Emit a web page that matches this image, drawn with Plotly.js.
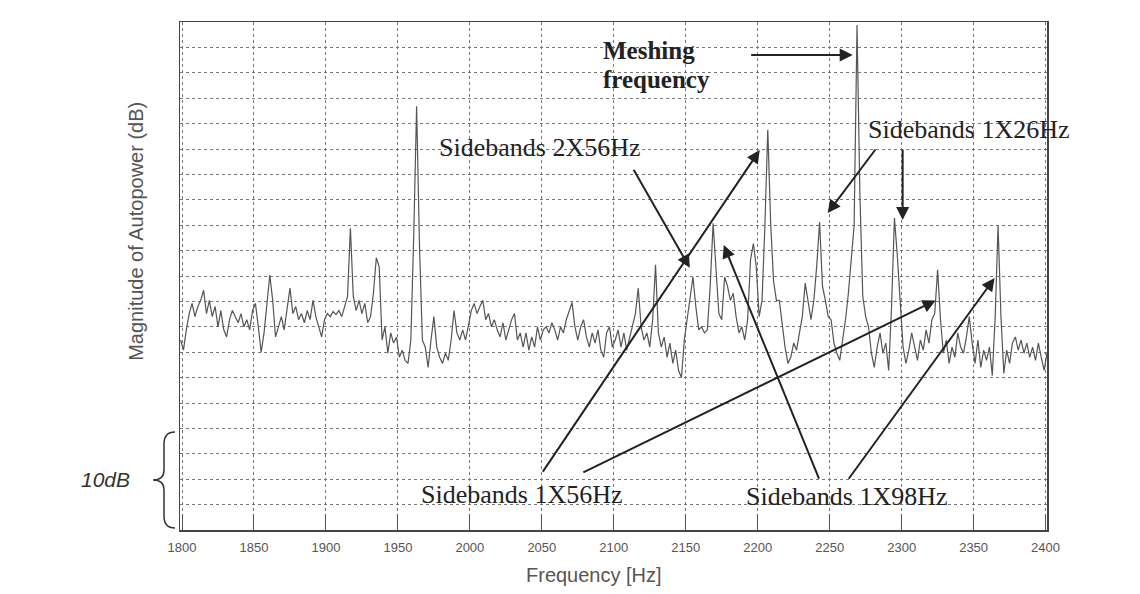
<!DOCTYPE html>
<html>
<head>
<meta charset="utf-8">
<script src="https://cdn.plot.ly/plotly-3.0.1.min.js"></script>
<style>html,body{margin:0;padding:0;background:#fff;}#chart{width:1140px;height:594px;}</style>
</head>
<body>
<div id="chart"></div>
<script>
const freqStart = 1799;
const freqStep = 2;
const magnitudeDb = [
  18.7,17.7,19.7,21.3,22.3,21.0,22.0,22.6,23.6,21.3,
  22.6,21.0,22.0,20.0,21.6,19.7,19.0,20.7,21.6,21.0,
  20.4,21.3,20.0,20.7,19.7,21.6,22.3,20.0,17.5,19.4,
  22.6,25.1,22.6,19.0,20.0,21.0,19.7,22.0,23.8,21.3,
  22.0,20.7,21.3,20.4,21.6,20.7,22.6,21.0,20.0,19.0,
  20.7,21.3,21.0,21.5,21.2,21.6,21.0,22.0,23.0,29.7,
  23.0,21.6,22.6,21.3,22.3,20.4,21.0,23.3,26.8,25.9,
  18.7,20.0,17.4,19.4,18.4,19.0,17.0,17.7,16.7,16.4,
  18.7,29.0,41.7,28.0,18.7,18.0,16.0,18.7,21.0,18.0,
  17.0,16.4,17.4,16.7,18.7,21.6,19.4,18.7,19.7,18.7,
  20.0,21.6,22.3,21.3,22.0,22.6,20.7,21.3,20.0,20.7,
  19.7,19.0,20.4,18.7,19.7,20.7,21.3,18.7,19.4,18.0,
  19.4,17.7,19.0,18.0,20.0,18.7,19.7,20.0,19.4,20.4,
  19.7,18.7,20.0,19.4,20.7,21.6,22.4,20.0,18.7,20.0,
  20.7,19.0,18.0,19.4,18.4,19.7,17.7,17.0,19.4,20.0,
  18.0,18.7,19.7,18.0,19.4,17.7,19.0,20.0,21.3,23.8,
  20.0,18.7,19.4,18.0,20.7,26.1,19.4,18.0,19.0,17.0,
  18.4,16.4,17.7,15.7,15.0,18.7,20.7,22.6,24.9,22.0,
  19.7,20.0,19.4,19.7,24.0,30.2,25.9,21.3,20.7,24.9,
  24.0,22.6,23.3,21.0,19.4,20.0,18.7,20.7,26.6,28.2,
  25.9,21.0,22.6,30.0,39.4,30.2,24.5,22.6,22.6,20.0,
  18.0,16.4,17.0,18.4,17.7,19.4,21.0,24.3,22.6,20.7,
  22.6,26.0,30.3,24.0,22.6,21.0,20.7,18.4,17.4,16.7,
  18.7,20.7,23.3,26.6,30.0,49.7,33.0,23.0,21.0,20.0,
  17.4,16.0,18.0,19.4,17.4,18.4,15.7,22.0,30.7,27.0,
  22.0,18.0,16.4,17.7,19.4,18.0,16.7,18.7,17.7,19.7,
  18.4,20.7,21.3,25.6,20.7,17.4,18.7,16.4,18.0,17.0,
  19.4,18.0,17.4,19.0,21.0,18.4,16.4,18.7,16.0,17.7,
  16.7,18.0,15.2,21.0,30.0,21.0,15.4,17.7,16.4,18.4,
  19.0,17.7,18.7,17.4,18.4,17.0,18.0,16.7,18.4,17.0,
  15.7,17.4
];
const xTickVals = [1800,1850,1900,1950,2000,2050,2100,2150,2200,2250,2300,2350,2400];
const xTickText = ['1800','1850','1900','1950','2000','2050','2100','2150','2200','2250','2300','2350','2400'];

// Label texts and arrow [tail, head] positions in data units (Hz, dB)
const labelTexts = ['Sidebands 2X56Hz','Sidebands 1X26Hz','Sidebands 1X56Hz','Sidebands 1X98Hz'];
const labelX = [2048.6, 2346.5, 2036, 2261.8];
const labelY = [37.6, 39.4, 3.5, 3.25];
const arrowTailX = [2194.4, 2282.6, 2300.7, 2113.2, 2050.0, 2077.8, 2243.0, 2262.5];
const arrowTailY = [46.75, 37.6, 37.6, 35.6, 5.6, 5.6, 4.9, 4.9];
const arrowHeadX = [2266.0, 2248.6, 2300.7, 2152.8, 2201.4, 2323.6, 2176.4, 2364.6];
const arrowHeadY = [46.75, 31.2, 30.5, 25.8, 37.4, 22.6, 28.05, 24.8];

const serif = 'Liberation Serif, Times New Roman, serif';
const sans = 'Liberation Sans, Arial, sans-serif';

const annotations = [];
labelTexts.forEach((t, i) => annotations.push({
  x: labelX[i], y: labelY[i], xref: 'x', yref: 'y', text: t, showarrow: false,
  xanchor: 'center', yanchor: 'middle', font: {family: serif, size: 26, color: '#222'}
}));
annotations.push({x: 2091, y: 47.2, xref: 'x', yref: 'y', text: '<b>Meshing</b>', showarrow: false,
  xanchor: 'left', yanchor: 'middle', font: {family: serif, size: 25, color: '#222'}});
annotations.push({x: 2091, y: 44.3, xref: 'x', yref: 'y', text: '<b>frequency</b>', showarrow: false,
  xanchor: 'left', yanchor: 'middle', font: {family: serif, size: 25, color: '#222'}});
arrowHeadX.forEach((hx, i) => annotations.push({
  x: hx, y: arrowHeadY[i], ax: arrowTailX[i], ay: arrowTailY[i], axref: 'x', ayref: 'y',
  xref: 'x', yref: 'y', text: '', showarrow: true, arrowhead: 2, arrowsize: 1.3,
  arrowwidth: 2, arrowcolor: '#222', standoff: 0, startstandoff: 0
}));
annotations.push({x: -0.0507, y: 0.587, xref: 'paper', yref: 'paper', text: 'Magnitude of Autopower (dB)',
  textangle: -90, showarrow: false, xanchor: 'center', yanchor: 'middle',
  font: {family: sans, size: 20, color: '#555'}});
annotations.push({x: -0.0854, y: 0.1, xref: 'paper', yref: 'paper', text: '<i>10dB</i>',
  showarrow: false, xanchor: 'center', yanchor: 'middle', font: {family: sans, size: 21, color: '#333'}});
annotations.push({x: 0.4775, y: -0.0886, xref: 'paper', yref: 'paper', text: 'Frequency [Hz]',
  showarrow: false, xanchor: 'center', yanchor: 'middle', font: {family: sans, size: 20, color: '#5a5450'}});

const trace = {
  type: 'scatter', mode: 'lines', x0: freqStart, dx: freqStep, y: magnitudeDb,
  line: {color: '#555', width: 1.2}, hoverinfo: 'skip'
};

const layout = {
  width: 1140, height: 594,
  margin: {l: 180, r: 93, t: 22, b: 64},
  paper_bgcolor: '#fff', plot_bgcolor: '#fff',
  showlegend: false,
  xaxis: {
    range: [1798.6, 2401], tickvals: xTickVals, ticktext: xTickText,
    showgrid: true, gridcolor: '#777', gridwidth: 1, griddash: '3px,3px',
    showline: true, mirror: true, linecolor: '#444', linewidth: 1.5,
    ticks: 'inside', ticklen: 16, tickcolor: '#555', tickwidth: 1,
    ticklabelstandoff: 5,
    tickfont: {family: sans, size: 13, color: '#555'}, zeroline: false
  },
  yaxis: {
    range: [0, 50], dtick: 2.5, tick0: 0, showticklabels: false,
    showgrid: true, gridcolor: '#777', gridwidth: 1, griddash: '3px,3px',
    showline: true, mirror: true, linecolor: '#444', linewidth: 1.5,
    ticks: '', zeroline: false
  },
  annotations: annotations,
  shapes: [{
    type: 'path', xref: 'paper', yref: 'paper',
    path: 'M -0.00577 0.1929 Q -0.01845 0.1929 -0.01845 0.1693 L -0.01845 0.1181 Q -0.01845 0.0984 -0.03114 0.0984 Q -0.01845 0.0984 -0.01845 0.0787 L -0.01845 0.0276 Q -0.01845 0.0039 -0.00577 0.0039',
    line: {color: '#333', width: 1.5}
  }]
};

Plotly.newPlot('chart', [trace], layout, {staticPlot: true, displayModeBar: false});
</script>
</body>
</html>
